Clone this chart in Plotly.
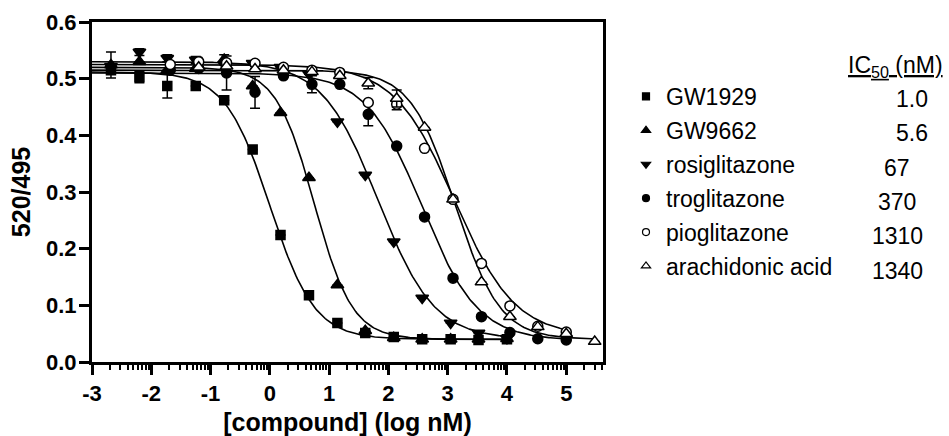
import math
import plotly.graph_objects as go

# ---------------- data ----------------
COMPOUNDS = ["GW1929", "GW9662", "rosiglitazone", "troglitazone", "pioglitazone", "arachidonic acid"]
IC50_LABELS = ["1.0", "5.6", "67", "370", "1310", "1340"]
IC50_NM = [1.0, 5.6, 67.0, 370.0, 1310.0, 1340.0]

# log10 [compound] (nM), 3-fold dilution series
X_TOP_10UM = [-2.68, -2.2, -1.73, -1.25, -0.77, -0.29, 0.18, 0.66, 1.14, 1.61, 2.09, 2.57, 3.05, 3.52, 4.0]
X_TOP_100UM = [-1.68, -1.2, -0.73, -0.25, 0.23, 0.71, 1.18, 1.66, 2.14, 2.61, 3.09, 3.57, 4.05, 4.52, 5.0]
X_TOP_300UM = [-1.2, -0.73, -0.25, 0.23, 0.71, 1.18, 1.66, 2.14, 2.61, 3.09, 3.57, 4.05, 4.52, 5.0, 5.48]

# 520/495 ratio
Y_GW1929 = [0.515, 0.503, 0.487, 0.487, 0.462, 0.375, 0.224, 0.118, 0.069, 0.051, 0.044, 0.040, 0.040, 0.039, 0.040]
Y_GW9662 = [0.524, 0.530, 0.515, 0.518, 0.534, 0.487, 0.440, 0.325, 0.136, 0.055, 0.043, 0.040, 0.040, 0.040, 0.041]
Y_ROSI = [0.522, 0.547, 0.536, 0.533, 0.525, 0.527, 0.520, 0.508, 0.424, 0.330, 0.212, 0.113, 0.069, 0.051, 0.042]
Y_TROG = [0.515, 0.518, 0.510, 0.476, 0.505, 0.490, 0.490, 0.437, 0.381, 0.256, 0.148, 0.080, 0.052, 0.041, 0.039]
Y_PIO = [0.525, 0.530, 0.528, 0.527, 0.520, 0.515, 0.511, 0.458, 0.455, 0.377, 0.287, 0.174, 0.099, 0.063, 0.053]
Y_AA = [0.520, 0.522, 0.517, 0.515, 0.512, 0.505, 0.492, 0.465, 0.414, 0.287, 0.141, 0.080, 0.062, 0.050, 0.036]

# error bars (SEM)
E_GW1929 = [0.005, 0.010, 0.021, 0, 0, 0, 0, 0, 0, 0, 0, 0, 0, 0, 0]
E_GW9662 = [0.023, 0, 0, 0, 0.008, 0, 0, 0, 0, 0, 0, 0, 0, 0, 0]
E_ROSI = [0, 0.006, 0.006, 0.006, 0, 0, 0, 0, 0, 0, 0, 0, 0, 0, 0]
E_TROG = [0, 0, 0.030, 0.028, 0, 0.015, 0, 0.020, 0, 0, 0, 0, 0, 0, 0]
E_PIO = [0, 0, 0, 0, 0, 0, 0, 0, 0.010, 0, 0, 0, 0, 0, 0]
E_AA = [0, 0, 0, 0, 0, 0, 0.010, 0.015, 0, 0, 0, 0, 0, 0, 0]

# four-parameter logistic fit parameters (IC50 from the legend)
FIT_TOP = [0.512, 0.520, 0.530, 0.510, 0.525, 0.515]
FIT_BOTTOM = [0.040, 0.040, 0.040, 0.038, 0.045, 0.040]
FIT_HILL = [1.15, 1.35, 0.92, 0.92, 0.85, 1.15]

X_SETS = [X_TOP_10UM, X_TOP_10UM, X_TOP_10UM, X_TOP_100UM, X_TOP_100UM, X_TOP_300UM]
Y_SETS = [Y_GW1929, Y_GW9662, Y_ROSI, Y_TROG, Y_PIO, Y_AA]
E_SETS = [E_GW1929, E_GW9662, E_ROSI, E_TROG, E_PIO, E_AA]

X_TICKS = [-3, -2, -1, 0, 1, 2, 3, 4, 5]
X_TICK_LABELS = ["-3", "-2", "-1", "0", "1", "2", "3", "4", "5"]
Y_TICKS = [0.0, 0.1, 0.2, 0.3, 0.4, 0.5, 0.6]
Y_TICK_LABELS = ["0.0", "0.1", "0.2", "0.3", "0.4", "0.5", "0.6"]

# ---------------- styling ----------------
SYMBOLS = ["square", "triangle-up", "triangle-down", "circle", "circle", "triangle-up"]
FILLS = ["black", "black", "black", "black", "white", "white"]
SIZES = [9, 11, 11, 10, 10, 11]
LEGEND_SIZES = [7, 8, 8, 7, 7, 8]
FONT = "Liberation Sans, Arial, sans-serif"

X_MIN, X_MAX = -3.0, 5.62

fig = go.Figure()

# fitted curves
for i in range(len(COMPOUNDS)):
    log_ic50 = math.log10(IC50_NM[i])
    x_end = max(X_SETS[i])
    n = 300
    cx = [X_MIN + (x_end - X_MIN) * k / (n - 1) for k in range(n)]
    cy = [FIT_BOTTOM[i] + (FIT_TOP[i] - FIT_BOTTOM[i]) / (1 + 10 ** ((x - log_ic50) * FIT_HILL[i])) for x in cx]
    fig.add_trace(go.Scatter(x=cx, y=cy, mode="lines", line=dict(color="black", width=1.6),
                             showlegend=False, hoverinfo="skip"))

# data points
for i, name in enumerate(COMPOUNDS):
    fig.add_trace(go.Scatter(
        x=X_SETS[i], y=Y_SETS[i], mode="markers", name=name, legendgroup=name, showlegend=False,
        marker=dict(symbol=SYMBOLS[i], size=SIZES[i], color=FILLS[i],
                    line=dict(color="black", width=1.5)),
        error_y=dict(type="data", array=E_SETS[i], visible=True, color="black", thickness=1.5, width=5),
    ))

# legend entries (smaller symbols, as in the reference key)
for i, name in enumerate(COMPOUNDS):
    fig.add_trace(go.Scatter(
        x=[None], y=[None], mode="markers", name=name, legendgroup=name, showlegend=True,
        marker=dict(symbol=SYMBOLS[i], size=LEGEND_SIZES[i], color=FILLS[i],
                    line=dict(color="black", width=1.2)),
    ))

# minor log ticks within each decade
minor_vals = []
for d in range(-3, 6):
    for k in range(2, 10):
        v = d + math.log10(k)
        if v < X_MAX:
            minor_vals.append(v)

axis_font = dict(family=FONT, size=22, color="black", weight="bold")
title_font = dict(family=FONT, size=25, color="black", weight="bold")
legend_font = dict(family=FONT, size=23, color="black")

fig.update_layout(
    width=949, height=436,
    margin=dict(l=92, r=346, t=22, b=74),
    paper_bgcolor="white", plot_bgcolor="white",
    font=dict(family=FONT, color="black"),
    xaxis=dict(
        range=[X_MIN, X_MAX], tickmode="array", tickvals=X_TICKS, ticktext=X_TICK_LABELS,
        ticks="outside", ticklen=10, tickwidth=2.5, tickcolor="black",
        showline=True, linewidth=3, linecolor="black", mirror=True, automargin=False,
        showgrid=False, zeroline=False, tickfont=axis_font,
        minor=dict(tickmode="array", tickvals=minor_vals, ticks="outside", ticklen=5,
                   tickwidth=2, tickcolor="black", showgrid=False),
        title=dict(text="[compound] (log nM)", font=title_font, standoff=15),
    ),
    yaxis=dict(
        range=[0, 0.6], tickmode="array", tickvals=Y_TICKS, ticktext=Y_TICK_LABELS,
        ticks="outside", ticklen=10, tickwidth=2.5, tickcolor="black",
        showline=True, linewidth=3, linecolor="black", mirror=True, automargin=False,
        showgrid=False, zeroline=False, tickfont=axis_font, ticklabelstandoff=-2,
        title=dict(text="520/495", font=title_font, standoff=9),
    ),
    legend=dict(
        xref="container", yref="container", x=626 / 949, y=1 - 75 / 436,
        xanchor="left", yanchor="top", bgcolor="rgba(0,0,0,0)",
        font=legend_font, maxheight=400,
        itemsizing="trace", tracegroupgap=1, itemclick=False,
    ),
)

# IC50 column
def px_to_paper(px, py):
    return (px - 92) / 511, (362 - py) / 340

hx, hy = px_to_paper(846, 66)
fig.add_annotation(x=hx, y=hy, xref="paper", yref="paper", showarrow=False,
                   text="<u>IC<sub>50</sub> (nM)</u>", xanchor="left", yanchor="middle",
                   font=legend_font)
for i, lab in enumerate(IC50_LABELS):
    cx_px = 912 if "." in lab else 897
    ax, ay = px_to_paper(cx_px, 99 + 34.3 * i)
    fig.add_annotation(x=ax, y=ay, xref="paper", yref="paper", showarrow=False,
                       text=lab, xanchor="center", yanchor="middle", font=legend_font)

fig.write_html("out.html", config={"displayModeBar": False},
               post_script="document.body.style.margin='0px';document.body.style.overflow='hidden';")
